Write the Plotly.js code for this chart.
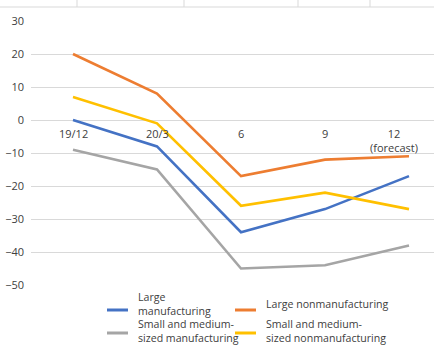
<!DOCTYPE html>
<html><head><meta charset="utf-8">
<script src="https://cdn.plot.ly/plotly-3.0.1.min.js"></script>
<style>html,body{margin:0;padding:0;background:#fff}#chart{width:434px;height:347px}</style>
</head><body><div id="chart"></div>
<script>
const categories = ["19/12", "20/3", "6", "9", "12<br>(forecast)"];
const seriesNames = ["Large<br>manufacturing", "Large nonmanufacturing", "Small and medium-<br>sized manufacturing", "Small and medium-<br>sized nonmanufacturing"];
const largeMfg = [0, -8, -34, -27, -17];
const largeNonMfg = [20, 8, -17, -12, -11];
const smeMfg = [-9, -15, -45, -44, -38];
const smeNonMfg = [7, -1, -26, -22, -27];
const colors = ["#4472C4", "#ED7D31", "#A5A5A5", "#FFC000"];

const W = 434, H = 347, L = 31, T = 21, B = 62;
const step = 84;
const xs = categories.map((c, i) => i);
const allSeries = [largeMfg, largeNonMfg, smeMfg, smeNonMfg];
const traces = allSeries.map((v, i) => ({
  x: xs, y: v, type: "scatter", mode: "lines", name: seriesNames[i],
  line: {color: colors[i], width: 2.6}, hoverinfo: "skip", showlegend: false
}));

const baseFont = {family: "Open Sans, sans-serif", size: 11, color: "#404040"};
const annotations = categories.map((c, i) => ({
  x: i, y: 0, xref: "x", yref: "y", text: c, showarrow: false,
  yanchor: "top", yshift: -4, xshift: i === categories.length - 1 ? -15 : 0,
  font: baseFont
}));

const px2x = p => (p - L) / (W - L);
const py2y = p => (H - B - p) / (H - B - T);
const shapes = [
  {type: "line", xref: "paper", yref: "paper", x0: px2x(0), x1: px2x(W), y0: py2y(7), y1: py2y(7), line: {color: "#d9d9d9", width: 1}}
].concat([77, 184, 298, 370].map(p => ({
  type: "line", xref: "paper", yref: "paper", x0: px2x(p), x1: px2x(p), y0: py2y(0), y1: py2y(7), line: {color: "#d9d9d9", width: 1}
})));

// custom legend (2 x 2 grid)
const legCols = [107, 235];
const legSymY = [310, 333];
const legTextY = [304, 331];
const legFont = {family: "Open Sans, sans-serif", size: 10.6, color: "#404040"};
seriesNames.forEach((n, i) => {
  const c = i % 2, r = Math.floor(i / 2);
  const x0 = legCols[c];
  shapes.push({type: "line", xref: "paper", yref: "paper", x0: px2x(x0), x1: px2x(x0 + 21),
    y0: py2y(legSymY[r]), y1: py2y(legSymY[r]), line: {color: colors[i], width: 3}});
  annotations.push({xref: "paper", yref: "paper", x: px2x(x0 + 29), y: py2y(legTextY[r]),
    xanchor: "left", yanchor: "middle", align: "left", text: n, showarrow: false, font: legFont});
});

const layout = {
  width: W, height: H,
  margin: {l: L, r: 0, t: T, b: B},
  paper_bgcolor: "#fff", plot_bgcolor: "#fff",
  showlegend: false,
  xaxis: {range: [-0.5, -0.5 + (W - L) / step], showgrid: false, zeroline: false, showticklabels: false, ticks: "", fixedrange: true},
  yaxis: {range: [-50, 30], dtick: 10, showgrid: true, gridcolor: "#d9d9d9", gridwidth: 1, zeroline: false,
    ticks: "", ticklabelstandoff: 6, tickfont: baseFont},
  annotations: annotations,
  shapes: shapes
};
Plotly.newPlot("chart", traces, layout, {displayModeBar: false, staticPlot: true});
</script></body></html>
